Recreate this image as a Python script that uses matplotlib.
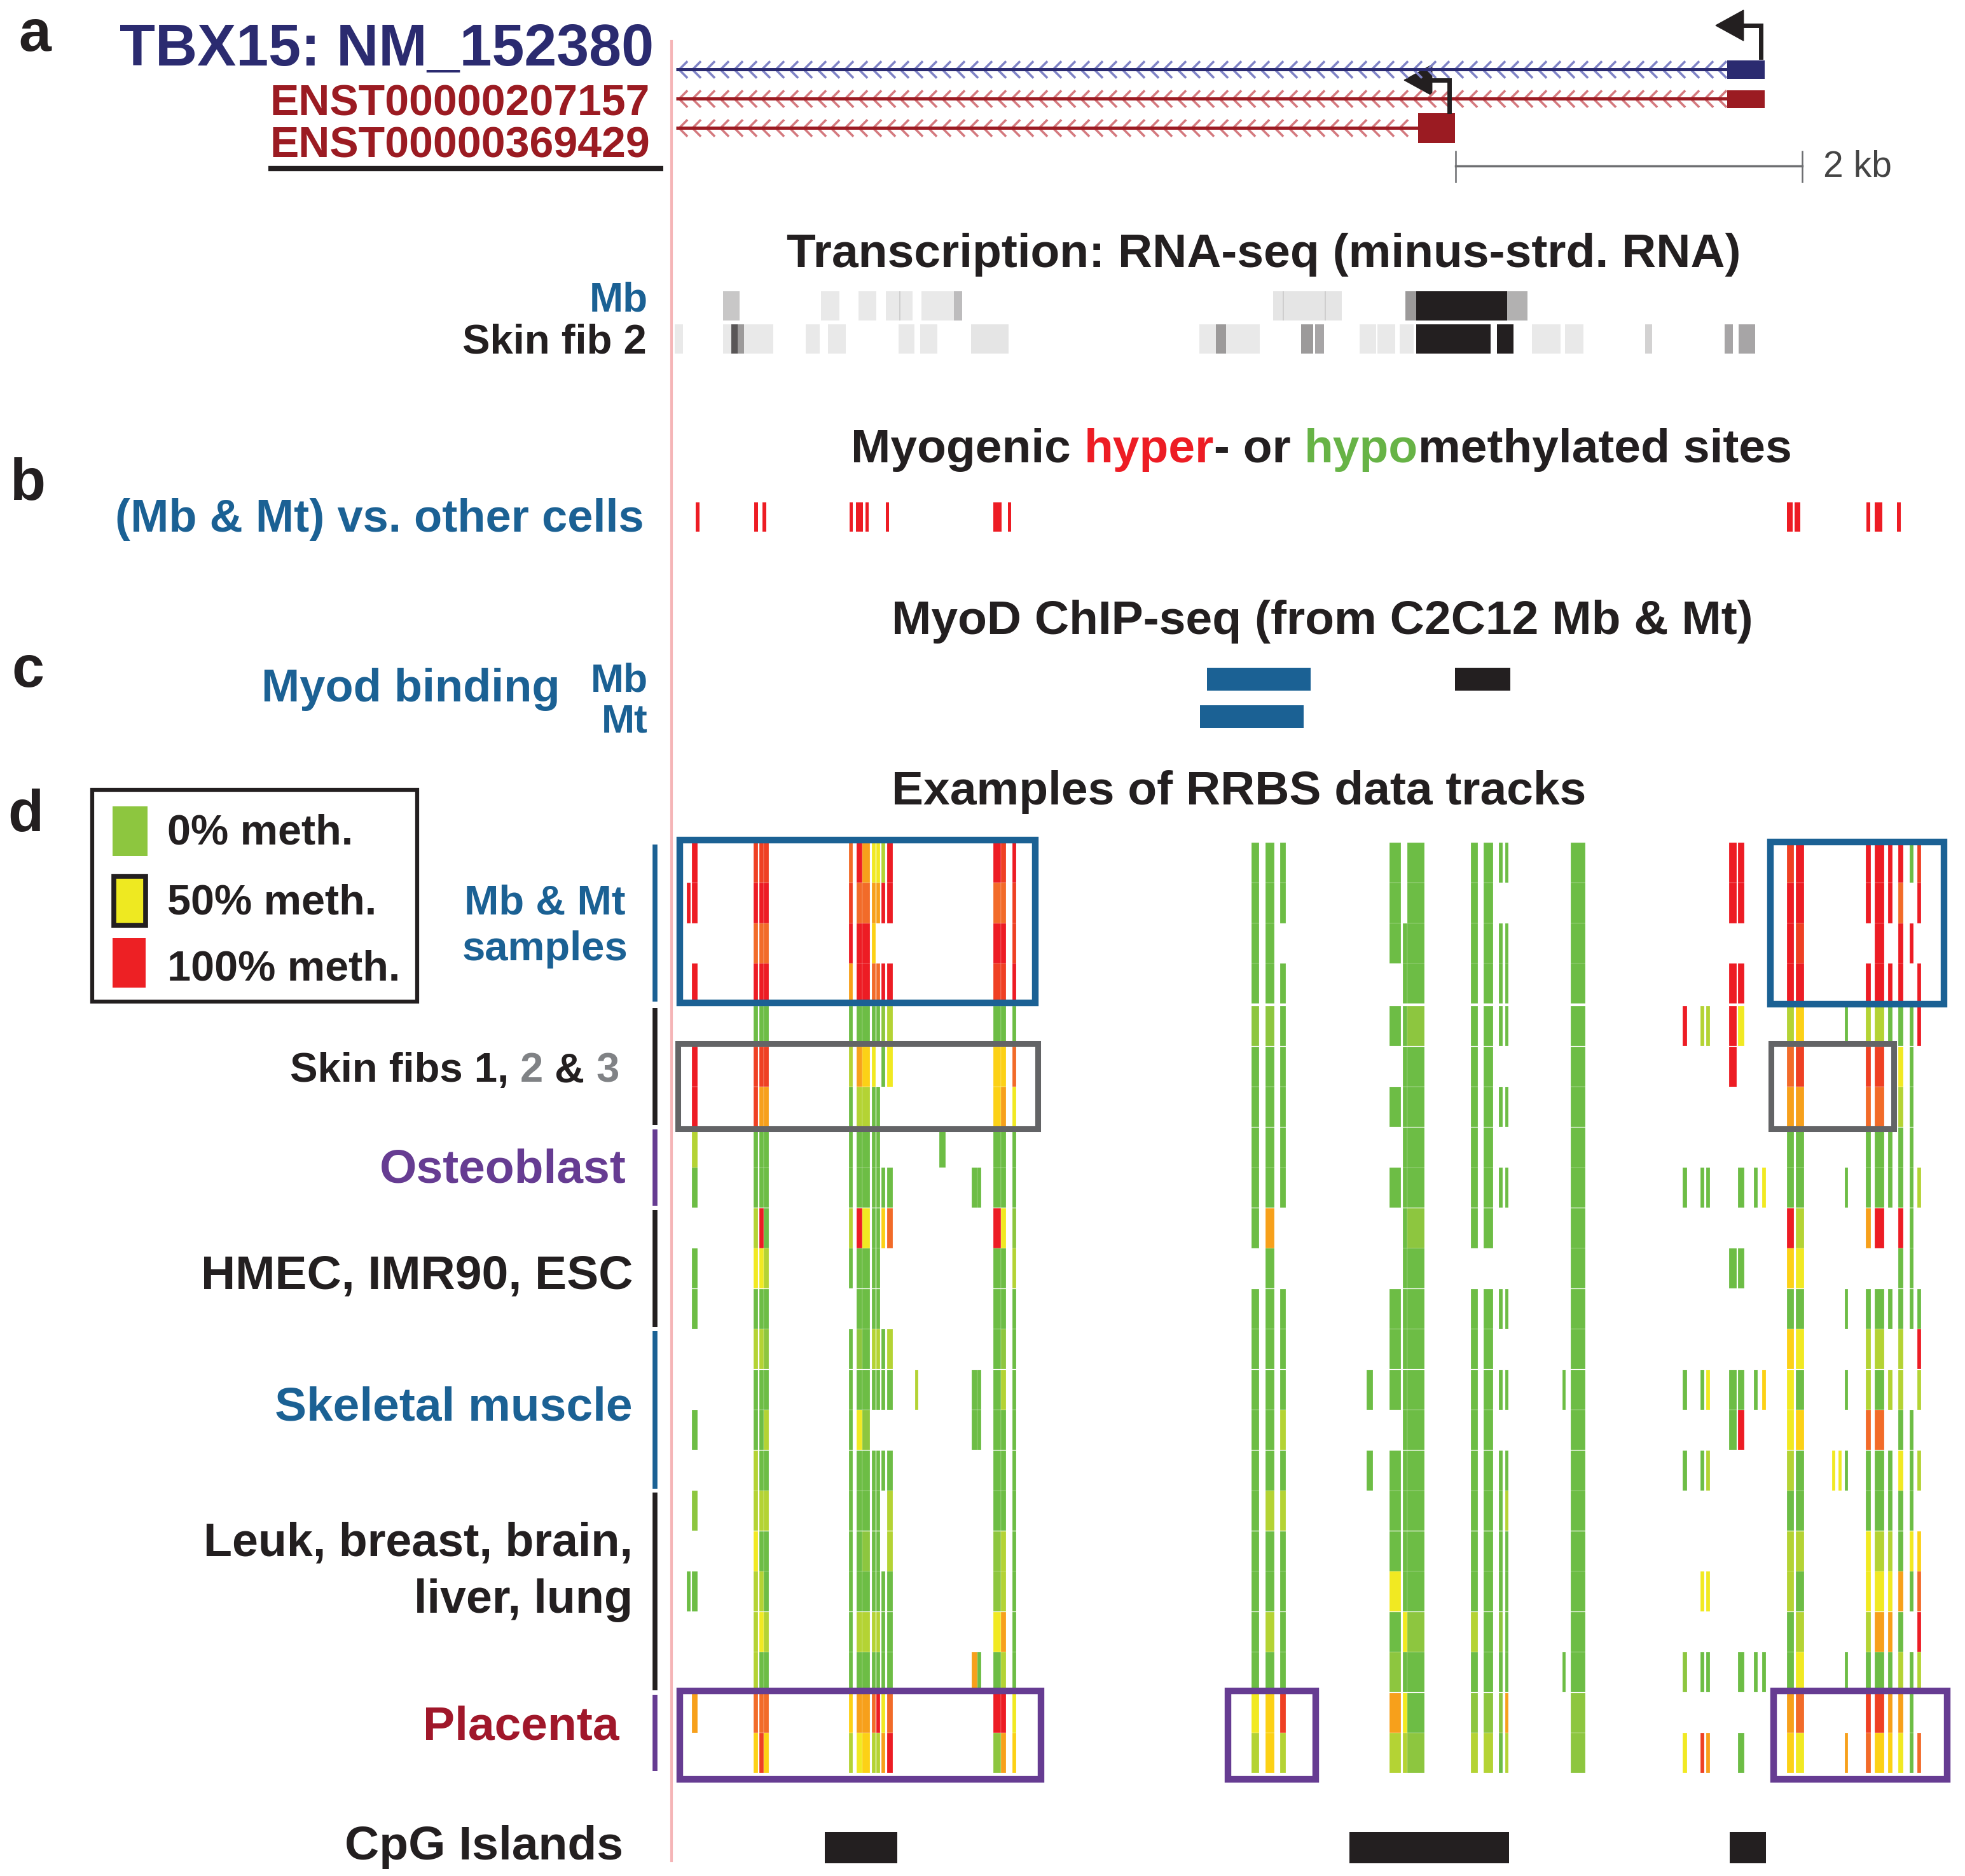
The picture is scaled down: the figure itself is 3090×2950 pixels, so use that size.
import numpy as np
import matplotlib
matplotlib.use("Agg")
import matplotlib.pyplot as plt
from matplotlib.colors import LinearSegmentedColormap
from matplotlib.patches import Rectangle, Polygon
from matplotlib.path import Path

plt.rcParams['font.family'] = ['Liberation Sans', 'DejaVu Sans']

# ======================= DATA (positions in bp from left edge of the window) =======================
tx_names = ["TBX15: NM_152380", "ENST00000207157", "ENST00000369429"]
tx_start = [-5, -5, -5]
tx_exon_start = [6063, 6063, 4280]
tx_exon_end = [6279, 6279, 4493]
tss_pos = [6257, 4459]
scale_bar_bp = [4496, 6496]
scale_label = "2 kb"

# RNA-seq (minus strand) signal segments: level 0 (white) .. 1 (black)
rna_mb_start = [268, 833, 1050, 1207, 1284, 1413, 1600, 3442, 3497, 3740, 4206, 4268, 4793]
rna_mb_end = [363, 940, 1152, 1362, 1292, 1648, 1648, 3839, 3505, 3748, 4268, 4793, 4910]
rna_mb_level = [0.25, 0.1, 0.1, 0.1, 0.22, 0.1, 0.3, 0.12, 0.22, 0.22, 0.45, 1.0, 0.35]

rna_fib_start = [-10, 268, 316, 352, 745, 873, 1281, 1406, 1699, 3017, 3112, 3604, 3685,
                 3942, 4044, 4172, 4268, 4734, 4936, 5126, 5589, 6048, 6129]
rna_fib_end = [37, 558, 352, 389, 826, 976, 1373, 1505, 1916, 3365, 3171, 3674, 3736,
               4037, 4147, 4253, 4698, 4830, 5101, 5233, 5630, 6096, 6225]
rna_fib_level = [0.1, 0.1, 0.75, 0.45, 0.1, 0.1, 0.1, 0.1, 0.12, 0.1, 0.45, 0.45, 0.4,
                 0.1, 0.1, 0.1, 1.0, 1.0, 0.1, 0.1, 0.2, 0.4, 0.4]

# Myogenic differentially methylated sites
dm_start = [110, 448, 495, 998, 1035, 1090, 1207, 1828, 1912, 6408, 6452, 6867, 6914, 7043]
dm_end = [132, 470, 517, 1017, 1075, 1108, 1226, 1876, 1930, 6441, 6485, 6889, 6958, 7065]

# MyoD ChIP-seq peaks
myod_mb_start = [3061, 4492]
myod_mb_end = [3659, 4811]
myod_mt_start = [3020]
myod_mt_end = [3619]

# CpG islands
cgi_start = [855, 3883, 6077]
cgi_end = [1273, 4804, 6287]

# RRBS tracks
group_names = ["Mb & Mt\nsamples", "Skin fibs 1, 2 & 3", "Osteoblast", "HMEC, IMR90, ESC",
               "Skeletal muscle", "Leuk, breast, brain,\nliver, lung", "Placenta"]
group_sizes = [4, 3, 2, 3, 4, 5, 2]
# methylation code per CpG column, one char per track (groups separated by '|')
meth_code = {'g': 0, 'h': 15, 'l': 30, 'y': 50, 'Y': 60, 'o': 72, 'O': 82, 'R': 92, 'r': 100}
cpg_start = [59, 88, 444, 477, 503, 995, 1039, 1072, 1127, 1152, 1182, 1215, 1376, 1516, 1703,
             1736, 1828, 1872, 1938, 3318, 3398, 3483, 3982, 4114, 4191, 4217, 4584, 4657,
             4745, 4782, 5112, 5160, 5806, 5909, 5942, 6074, 6125, 6217, 6265, 6408, 6459,
             6668, 6705, 6742, 6863, 6914, 6991, 7050, 7116, 7160]
cpg_end = [81, 121, 470, 503, 532, 1017, 1072, 1116, 1149, 1174, 1204, 1248, 1395, 1552, 1736,
           1758, 1872, 1901, 1960, 3362, 3450, 3516, 4019, 4180, 4217, 4316, 4624, 4712,
           4767, 4800, 5131, 5244, 5832, 5931, 5964, 6118, 6162, 6239, 6287, 6448, 6507,
           6687, 6723, 6760, 6892, 6969, 7017, 7079, 7138, 7182]
cpg_meth = [
    ".r..|...|..|...|....|..g..|..",
    "rr.r|.rr|lg|.gg|..g.|h.g..|o.",
    "RrOr|gRR|gg|lyg|lggl|lylll|OY",
    "RrOr|gRo|gg|ryg|lggg|lglyg|OR",
    "RrOr|gRo|gg|glg|hglg|lgglg|OY",
    "ORro|glg|gg|lg.|gggg|ggggg|Yl",
    "rOrr|gol|gg|rgg|hgyg|ggglg|oy",
    "oOrr|gYl|gg|ygg|gghg|ghglg|oY",
    "yoYO|gyg|gg|ggg|lg.g|ggglg|Ol",
    "yo.O|g.g|gg|ggg|lg.g|ggglg|rl",
    "lr.r|hg.|.g|Y..|gg.g|..ggg|yo",
    "rr.r|ly.|.g|O..|lg.g|llggg|Or",
    "....|...|..|...|.l..|.....|..",
    "....|...|g.|...|....|.....|..",
    "....|...|.g|...|.gg.|....o|..",
    "....|...|.g|...|.gg.|....g|..",
    "rOrR|gYY|gg|rgg|gggg|ghhyg|rh",
    "ROrR|gYo|gg|ygg|hlgg|gllol|ro",
    "rRRr|gOy|gg|hlg|gggg|ggggg|yY",
    "gggg|hgg|gg|g.g|gggg|ggggg|yl",
    "gggg|hgg|gg|ogg|gggg|lgglg|YY",
    "gg.g|ggg|gg|..g|gglg|lgggg|Rl",
    "....|...|..|...|.g.g|.....|..",
    "ggg.|g.g|.g|..g|gg.g|ggygh|ol",
    "..gg|ggg|gg|ggg|gggg|gggyg|yl",
    "gggg|hgg|gg|hgg|gggg|ggghg|gh",
    "gggg|ggg|gg|g.g|gggg|ggglg|hl",
    "gggg|ggg|gg|g.g|gggg|ggggg|hl",
    "g.gg|g.g|.g|..g|.g.g|ggghg|hg",
    "g.gg|g.g|.g|..g|.g.g|lgggg|ol",
    "....|...|..|...|.g..|....g|..",
    "gggg|ggg|gg|ggg|gggg|ggggg|hh",
    "....|r..|.g|...|.g.g|....h|.y",
    "....|l..|.g|...|.g.g|..y.g|.R",
    "....|l..|.g|...|.y.l|..y.g|.o",
    "rr.r|rr.|..|.g.|.gg.|.....|..",
    "rr.r|y..|.g|.g.|.gr.|....g|.g",
    "....|...|.g|...|.g..|....g|..",
    "....|...|.y|...|.Y..|....g|..",
    "Rrrr|lOo|gg|rYg|Yyyl|gllgg|oY",
    "rrRr|YRo|gg|lyg|ygYg|glgly|Oy",
    "....|...|..|...|...y|.....|..",
    "....|...|..|...|...y|.....|..",
    "....|g..|.g|..g|.g.g|....g|.o",
    "rr.r|lRO|gg|o.g|llOg|gyylg|RO",
    "rrrr|lRO|gg|r.g|lgOg|glyog|RY",
    "rr.r|g..|gg|..g|.l.g|glyog|oY",
    "rOrr|gyl|gg|rgg|llgy|ggogl|oy",
    "g.r.|ggg|gg|ggg|..gg|gyg.g|gg",
    "Rr.r|r..|.l|..g|rl.l|.YOrl|.O",
]

# ======================= STYLE =======================
NAVY = "#2b2b70"; DRED = "#9b1b22"; BLUE = "#1b6194"; BLACK = "#231f20"
PURPLE = "#663c92"; GRAY = "#636466"; RED = "#ed1c24"; GREEN = "#67b346"
meth_cmap = LinearSegmentedColormap.from_list(
    "meth", [(0.0, '#6dbd45'), (0.15, '#8dc63f'), (0.30, '#b5d334'), (0.50, '#f1e922'),
             (0.60, '#fcd116'), (0.72, '#f7a11b'), (0.82, '#f26b29'), (0.92, '#ef4123'),
             (1.0, '#ed1c24')])
gray_cmap = LinearSegmentedColormap.from_list("sig", ['#ffffff', BLACK])

W, H = 3090, 2950
fig = plt.figure(figsize=(W / 100, H / 100), dpi=100)
ax = fig.add_axes([0, 0, 1, 1])           # genomic axis (bp) x pixel rows
BP_PER_PX = 3.67
ax.set_xlim(-1064 * BP_PER_PX, (W - 1064) * BP_PER_PX)
ax.set_ylim(H, 0)
ax.axis('off')
lay = fig.add_axes([0, 0, 1, 1])          # layout axis in pixels
lay.set_xlim(0, W); lay.set_ylim(H, 0); lay.axis('off')
lay.patch.set_alpha(0)

FS = 54
def T(x, y, s, size=FS, color=BLACK, ha='right', va='baseline', weight='bold', **kw):
    return lay.text(x, y, s, fontsize=size, color=color, ha=ha, va=va, fontweight=weight, **kw)

renderer = fig.canvas.get_renderer()
def rich(x, y, parts, ha='left', size=FS):
    def width(s):
        t1 = lay.text(0, 0, '|' + s + '|', fontsize=size, fontweight='bold')
        t2 = lay.text(0, 0, '||', fontsize=size, fontweight='bold')
        v = t1.get_window_extent(renderer).width - t2.get_window_extent(renderer).width
        t1.remove(); t2.remove()
        return v
    ws = [width(s) for s, _ in parts]
    tot = sum(ws)
    x0 = x - tot / 2 if ha == 'center' else (x - tot if ha == 'right' else x)
    for (s, c), w in zip(parts, ws):
        T(x0, y, s, size=size, color=c, ha='left')
        x0 += w

# pink guide line
lay.plot([1056, 1056], [65, 2926], color='#f5b5b7', lw=3, zorder=0)

# panel letters
for s, x, y in [("a", 55, 80), ("b", 44, 786), ("c", 44, 1080), ("d", 40, 1307)]:
    T(x, y, s, size=66, ha='center')

# ---------------- panel a: gene models ----------------
tx_y = [109, 155, 201]
tx_exon_h = [(95, 124), (142, 170), (178, 225)]
tx_col = [NAVY, DRED, DRED]
tx_chev = ["#7f83c6", "#d4797e", "#d4797e"]
chev = Path([(0.5, 1), (-0.5, 0), (0.5, -1)], [Path.MOVETO, Path.LINETO, Path.LINETO])
for i in range(3):
    xs = np.arange(tx_start[i] + 40, tx_exon_start[i] - 20, 80)
    ax.plot(xs, np.full(len(xs), tx_y[i]), ls='none', marker=chev, ms=19, mfc='none',
            mec=tx_chev[i], mew=2.6)
    ax.plot([tx_start[i], tx_exon_start[i]], [tx_y[i], tx_y[i]], color=tx_col[i], lw=3.6,
            solid_capstyle='butt')
    ax.bar(tx_exon_start[i], tx_exon_h[i][1] - tx_exon_h[i][0], bottom=tx_exon_h[i][0],
           width=tx_exon_end[i] - tx_exon_start[i], align='edge', color=tx_col[i])
# TSS arrows
for tp, (yb, yt) in zip(tss_pos, [(90, 40), (175, 126)]):
    ax.plot([tp, tp, tp - 120], [yb, yt, yt], color=BLACK, lw=5, solid_joinstyle='miter')
    ax.add_patch(Polygon([(tp - 260, yt), (tp - 100, yt - 24), (tp - 100, yt + 24)],
                         closed=True, color=BLACK))
T(1028, 103, tx_names[0], size=66, color=NAVY)
T(1022, 182, tx_names[1], size=49, color=DRED)
T(1022, 248, tx_names[2], size=49, color=DRED)
lay.plot([422, 1043], [265, 265], color=BLACK, lw=6, solid_capstyle='butt')
# scale bar
ax.plot(scale_bar_bp, [261, 261], color='#6d6e71', lw=2.5)
for xb in scale_bar_bp:
    ax.plot([xb, xb], [238, 286], color='#6d6e71', lw=1.8)
T(2867, 277, scale_label, size=41, color='#444444', ha='left', weight='normal')

# ---------------- RNA-seq ----------------
T(1987, 420, "Transcription: RNA-seq (minus-strd. RNA)", ha='center')
T(1019, 489, "Mb", size=46, color=BLUE)
T(1017, 556, "Skin fib 2", size=47)
for st, en, lv, (y0, h) in [(rna_mb_start, rna_mb_end, rna_mb_level, (458, 46)),
                            (rna_fib_start, rna_fib_end, rna_fib_level, (510, 46))]:
    st = np.array(st); en = np.array(en)
    ax.bar(st, h, bottom=y0, width=en - st, align='edge', color=gray_cmap(np.array(lv)),
           linewidth=0)

# ---------------- panel b ----------------
rich(2078, 727, [("Myogenic ", BLACK), ("hyper", RED), ("- or ", BLACK), ("hypo", GREEN),
                 ("methylated sites", BLACK)], ha='center')
T(1013, 836, "(Mb & Mt) vs. other cells", size=52, color=BLUE)
ds = np.array(dm_start); de = np.array(dm_end)
ax.bar(ds, 46, bottom=790, width=de - ds, align='edge', color=RED, linewidth=0)

# ---------------- panel c ----------------
T(2079, 997, "MyoD ChIP-seq (from C2C12 Mb & Mt)", ha='center')
T(881, 1103, "Myod binding", size=52, color=BLUE)
T(1019, 1088, "Mb", size=45, color=BLUE)
T(1019, 1151, "Mt", size=45, color=BLUE)
ms = np.array(myod_mb_start); me = np.array(myod_mb_end)
ax.bar(ms, 36, bottom=1050, width=me - ms, align='edge', color=[BLUE, BLACK], linewidth=0)
ms = np.array(myod_mt_start); me = np.array(myod_mt_end)
ax.bar(ms, 36, bottom=1109, width=me - ms, align='edge', color=BLUE, linewidth=0)

# ---------------- panel d: RRBS ----------------
T(1948, 1265, "Examples of RRBS data tracks", ha='center')
row_top = [1325 + i * 63.3 for i in range(4)] + [1582 + i * 63.5 for i in range(19)]
row_h = 63.4
bx, bw, bb, cc = [], [], [], []
for s, e, code in zip(cpg_start, cpg_end, cpg_meth):
    code = code.replace('|', '')
    for r, ch in enumerate(code):
        if ch == '.':
            continue
        bx.append(s); bw.append(e - s); bb.append(row_top[r])
        cc.append(meth_cmap(meth_code[ch] / 100))
ax.bar(bx, row_h, bottom=bb, width=bw, align='edge', color=cc, edgecolor='#ffffff80',
       linewidth=0.3)

# group bars and labels
group_colors = [BLUE, BLACK, PURPLE, BLACK, BLUE, BLACK, PURPLE]
r0 = 0
for n, col in zip(group_sizes, group_colors):
    y0 = row_top[r0] + 3
    y1 = row_top[r0 + n - 1] + row_h - 3
    lay.plot([1030, 1030], [y0, y1], color=col, lw=5.5, solid_capstyle='butt')
    r0 += n
T(857, 1437, "Mb & Mt", size=47, color=BLUE, ha='center')
T(857, 1510, "samples", size=47, color=BLUE, ha='center')
rich(974, 1701, [("Skin fibs 1, ", BLACK), ("2 ", "#808285"), ("& ", BLACK), ("3", "#808285")],
     ha='right', size=47)
T(985, 1860, "Osteoblast", color=PURPLE)
T(995, 2026, "HMEC, IMR90, ESC")
T(995, 2234, "Skeletal muscle", color=BLUE)
T(995, 2447, "Leuk, breast, brain,", size=53)
T(995, 2536, "liver, lung", size=53)
T(974, 2735, "Placenta", color="#a0172a")
T(980, 2924, "CpG Islands")

# highlight boxes
for (x0, x1, y0, y1, col, lw) in [
        (1069, 1628, 1321, 1577, BLUE, 7.5), (2784, 3057, 1324, 1579, BLUE, 7.5),
        (1066, 1632, 1641, 1775, GRAY, 6.5), (2785, 2978, 1641, 1775, GRAY, 6.5),
        (1069, 1637, 2659, 2798, PURPLE, 7.5), (1931, 2069, 2659, 2798, PURPLE, 7.5),
        (2789, 3062, 2659, 2798, PURPLE, 7.5)]:
    lay.add_patch(Rectangle((x0, y0), x1 - x0, y1 - y0, fill=False, ec=col, lw=lw,
                            joinstyle='miter', zorder=5))

# legend
lay.add_patch(Rectangle((145, 1242), 511, 333, fill=False, ec=BLACK, lw=4.5, joinstyle='miter'))
lay.add_patch(Rectangle((177, 1268), 55, 78, color='#8dc63f', lw=0))
lay.add_patch(Rectangle((179, 1378), 50, 77, fc='#eee921', ec=BLACK, lw=5.5, joinstyle='miter'))
lay.add_patch(Rectangle((177, 1475), 52, 78, color='#ed2024', lw=0))
T(263, 1328, "0% meth.", size=48, ha='left')
T(263, 1437, "50% meth.", size=48, ha='left')
T(263, 1541, "100% meth.", size=48, ha='left')

# CpG islands
cs = np.array(cgi_start); ce = np.array(cgi_end)
ax.bar(cs, 49, bottom=2881, width=ce - cs, align='edge', color=BLACK, linewidth=0)

fig.savefig("out.png", dpi=100)
